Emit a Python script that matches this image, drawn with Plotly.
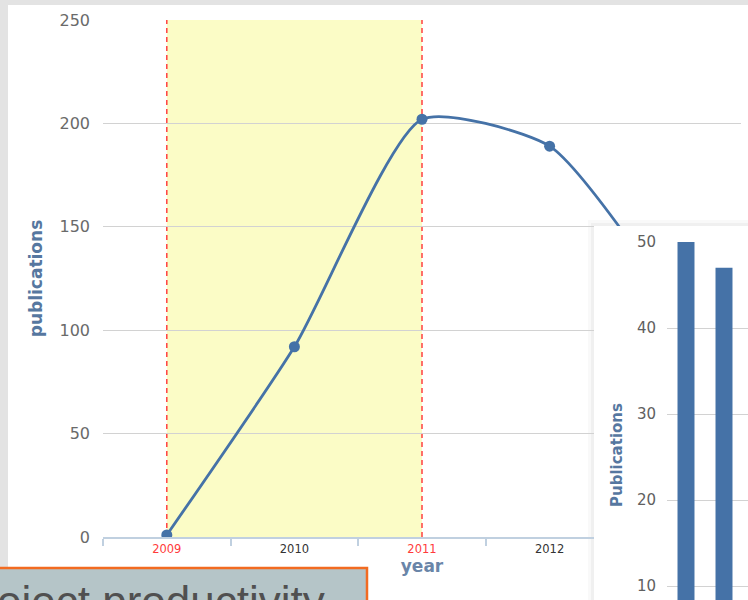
import plotly.graph_objects as go

# ---- data ----
years = ['2009', '2010', '2011', '2012', '2013']
publications = [1, 92, 202, 189, 110]
highlight_start = '2009'
highlight_end = '2011'
red_years = ['2009', '2011']

bar_categories = ['1', '2']
bar_values = [50, 47]

box_text = 'Project productivity'

# ---- helpers (layout positions in pixels -> paper fractions) ----
W, H = 748, 600
def fx(p):
    return p / W
def fy(p):
    return 1 - p / H

BLUE = '#4572A7'
TITLE_BLUE = '#5677A0'
FONT = 'DejaVu Sans'

fig = go.Figure()
fig.add_trace(go.Scatter(
    x=years, y=publications, mode='lines+markers',
    line=dict(color=BLUE, width=2.8, shape='spline', smoothing=0.6),
    marker=dict(size=11, color=BLUE),
    xaxis='x', yaxis='y', showlegend=False, hoverinfo='x+y'))
# blank "card" subplot that hides the part of the line chart under the bar chart
fig.add_trace(go.Scatter(x=[], y=[], xaxis='x2', yaxis='y2', showlegend=False))
fig.add_trace(go.Bar(
    x=bar_categories, y=bar_values, marker=dict(color=BLUE, line=dict(width=0)),
    xaxis='x3', yaxis='y3', showlegend=False))

ticktext = [f"<span style='color:#FF3B3B'>{y}</span>" if y in red_years else y for y in years]

i0 = years.index(highlight_start)
i1 = years.index(highlight_end)

shapes = [
    # main white card
    dict(type='rect', xref='paper', yref='paper', x0=fx(8), x1=1.02, y0=-0.02, y1=fy(5),
         fillcolor='white', line=dict(width=0), layer='below'),
    # plot band
    dict(type='rect', xref='x', yref='y domain', x0=i0, x1=i1, y0=0, y1=1,
         fillcolor='#FBFCC6', line=dict(width=0), layer='below'),
    # plot lines
    dict(type='line', xref='x', yref='y domain', x0=i0, x1=i0, y0=0, y1=1,
         line=dict(color='#FF4040', width=1.5, dash='5px,4px'), layer='below'),
    dict(type='line', xref='x', yref='y domain', x0=i1, x1=i1, y0=0, y1=1,
         line=dict(color='#FF4040', width=1.5, dash='5px,4px'), layer='below'),
    # bar card soft shadow
    dict(type='rect', xref='paper', yref='paper', x0=fx(588), x1=1.02, y0=-0.02, y1=fy(220),
         fillcolor='rgba(0,0,0,0.025)', line=dict(width=0), layer='below'),
    dict(type='rect', xref='paper', yref='paper', x0=fx(591), x1=1.02, y0=-0.02, y1=fy(223),
         fillcolor='rgba(0,0,0,0.035)', line=dict(width=0), layer='below'),
    # text box
    dict(type='rect', xref='paper', yref='paper', x0=-0.02, x1=fx(367), y0=-0.05, y1=fy(568),
         fillcolor='#B5C5C8', line=dict(color='#F26B21', width=2.5), layer='above'),
]

annotations = [
    dict(text='<b>Publications</b>', xref='paper', yref='paper', x=fx(617), y=fy(455),
         textangle=-90, showarrow=False, xanchor='center', yanchor='middle',
         font=dict(family=FONT, size=15, color=TITLE_BLUE)),
    dict(text=box_text, xref='paper', yref='paper', x=fx(327), y=fy(575),
         xanchor='right', yanchor='top', showarrow=False,
         font=dict(family='Liberation Sans', size=44, color='#505050')),
]

fig.update_layout(
    width=W, height=H, autosize=False,
    margin=dict(l=0, r=0, t=0, b=0, pad=0, autoexpand=False),
    paper_bgcolor='#E3E3E3', plot_bgcolor='white',
    font=dict(family=FONT),
    showlegend=False,
    bargap=0.553,
    xaxis=dict(
        domain=[fx(103), fx(741)], anchor='y', type='category', range=[-0.5, 4.5],
        tickmode='array', tickvals=years, ticktext=ticktext,
        tickfont=dict(size=11.5, color='#333333'),
        showgrid=False, showline=True, linecolor='#C0D0E0', linewidth=1.5,
        ticks='outside', tickson='boundaries', ticklen=7, tickcolor='#C0D0E0', tickwidth=1.5,
        title=dict(text='year', standoff=5,
                   font=dict(family=FONT, size=17, color='#6A85A8', weight='bold')),
        zeroline=False, fixedrange=True, automargin=False),
    yaxis=dict(
        domain=[fy(537), fy(20)], anchor='x', range=[0, 250], dtick=50,
        showgrid=True, gridcolor='#D2D2D2', gridwidth=1.2, zeroline=False, showline=False,
        tickfont=dict(size=16, color='#6A6A6A'), ticklabelstandoff=12,
        title=dict(text='publications', standoff=12,
                   font=dict(family=FONT, size=17, color=TITLE_BLUE, weight='bold')),
        fixedrange=True, automargin=False),
    xaxis2=dict(domain=[fx(594), 1], anchor='y2', visible=False, range=[0, 1], automargin=False),
    yaxis2=dict(domain=[0, fy(226)], anchor='x2', visible=False, range=[0, 1], automargin=False),
    xaxis3=dict(domain=[fx(667), 1], anchor='y3', type='category',
                range=[-0.5, -0.5 + 81 / 38], showticklabels=False, showgrid=False,
                zeroline=False, showline=False, automargin=False),
    yaxis3=dict(domain=[0, fy(242)], anchor='x3', range=[10 - 14 / 8.6, 50],
                tickvals=[10, 20, 30, 40, 50], showgrid=True, gridcolor='#D2D2D2', gridwidth=1.2,
                zeroline=False, showline=False, automargin=False,
                tickfont=dict(size=15, color='#606060'), ticklabelstandoff=10),
    shapes=shapes,
    annotations=annotations,
)

fig.write_html('out.html', config={'displayModeBar': False},
               post_script="document.body.style.margin='0';document.body.style.overflow='hidden';")
